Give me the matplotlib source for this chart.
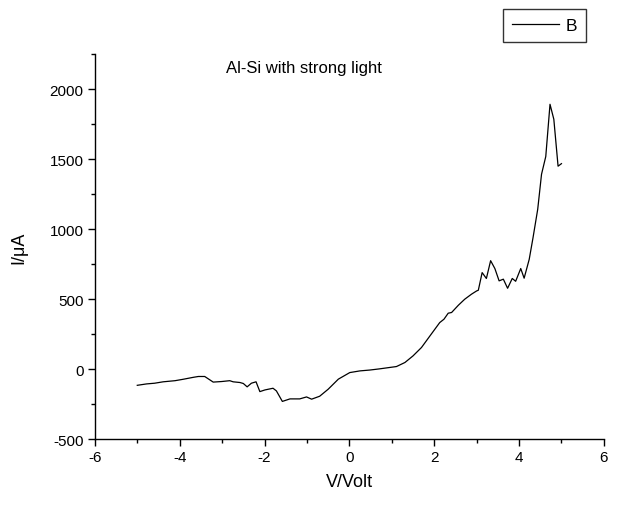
import numpy as np
import matplotlib.pyplot as plt
from matplotlib.ticker import MultipleLocator

plt.rcParams['font.family'] = ['Liberation Sans', 'DejaVu Sans']
plt.rcParams['axes.unicode_minus'] = False

# values
volt = [-5.0, -4.78, -4.59, -4.39, -4.11, -3.92, -3.68, -3.56, -3.41, -3.21,
        -3.01, -2.82, -2.74, -2.58, -2.50, -2.41, -2.31, -2.20, -2.11, -1.99,
        -1.80, -1.72, -1.58, -1.40, -1.17, -1.01, -0.89, -0.70, -0.50, -0.26,
        0.01, 0.25, 0.48, 0.70, 1.11, 1.31, 1.50, 1.70, 1.90, 2.13,
        2.23, 2.33, 2.41, 2.57, 2.72, 2.88, 3.00, 3.04, 3.13, 3.23,
        3.33, 3.43, 3.53, 3.63, 3.73, 3.84, 3.92, 4.04, 4.12, 4.24,
        4.33, 4.44, 4.53, 4.63, 4.73, 4.82, 4.92, 5.0]
current = [-115, -105, -100, -90, -82, -72, -58, -52, -52, -92,
           -88, -82, -90, -95, -102, -126, -100, -90, -160, -148,
           -136, -155, -230, -212, -212, -198, -214, -193, -143, -71,
           -24, -12, -6, 2, 19, 48, 95, 155, 238, 333,
           357, 400, 405, 457, 500, 536, 559, 564, 690, 648,
           775, 719, 631, 643, 578, 648, 628, 719, 650, 785,
           940, 1142, 1392, 1519, 1892, 1785, 1450, 1468]

fig = plt.figure(figsize=(6.2, 5.06), dpi=100)
ax = fig.add_axes([0.153, 0.130, 0.821, 0.761])

ax.plot(volt, current, color='black', linewidth=0.9, label='B')

ax.set_xlim(-6, 6)
ax.set_ylim(-500, 2250)
ax.xaxis.set_major_locator(MultipleLocator(2))
ax.xaxis.set_minor_locator(MultipleLocator(1))
ax.yaxis.set_major_locator(MultipleLocator(500))
ax.yaxis.set_minor_locator(MultipleLocator(250))

ax.spines['top'].set_visible(False)
ax.spines['right'].set_visible(False)
for s in ['left', 'bottom']:
    ax.spines[s].set_linewidth(1.0)

ax.tick_params(which='major', direction='out', length=5, width=1.0,
               labelsize=11, pad=3)
ax.tick_params(which='minor', direction='out', length=3, width=1.0)

ax.set_xlabel('V/Volt', fontsize=13, labelpad=6)
ax.set_ylabel('I/\u03bcA', fontsize=13, labelpad=16)

fig.text(304 / 620, 1 - 68 / 506, 'Al-Si with strong light', fontsize=12,
         ha='center', va='center')

leg = fig.legend(loc='upper right', bbox_to_anchor=(586 / 620, 1 - 10 / 506),
                 fontsize=12.5, frameon=True, fancybox=False, handlelength=2.7,
                 borderpad=0.5, handletextpad=0.4, borderaxespad=0)
leg.get_frame().set_edgecolor('black')
leg.get_frame().set_linewidth(1.0)

fig.savefig('out.png', dpi=100)
